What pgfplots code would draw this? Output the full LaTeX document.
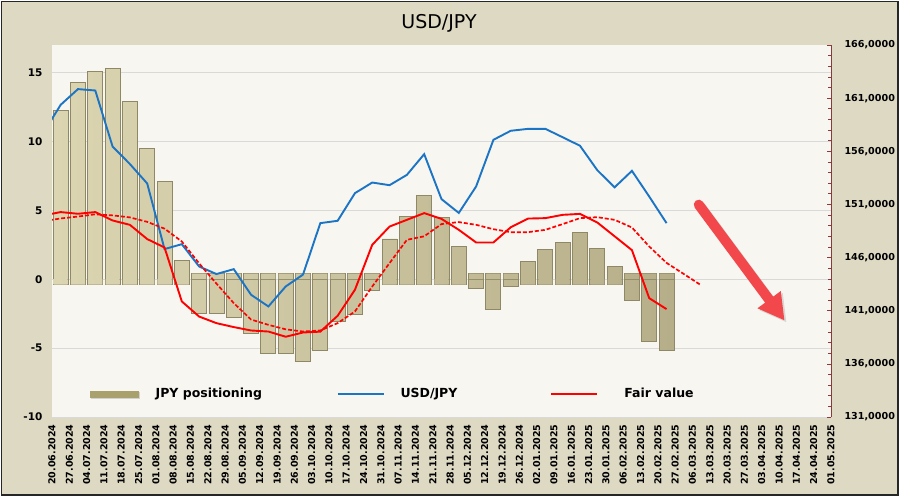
\documentclass[border=0pt]{standalone}
\usepackage{pgfplots}
\usepackage{pgfplotstable}
\pgfplotsset{compat=1.18}
\usepackage{fontspec}
\setmainfont{DejaVu Sans}
\usetikzlibrary{arrows.meta}
\definecolor{outerbg}{HTML}{DDD9C3}
\definecolor{plotbg}{HTML}{F7F6F1}
\definecolor{gridc}{HTML}{D9D9D9}
\definecolor{barL}{HTML}{DCD5B2}
\definecolor{barM}{HTML}{D2CBA5}
\definecolor{barR}{HTML}{B5AE88}
\definecolor{baredge}{HTML}{8E8866}
\definecolor{legbar}{HTML}{A8A06D}
\definecolor{usdblue}{HTML}{1C74C4}
\definecolor{axred}{HTML}{8B3A3A}
\definecolor{arrowred}{HTML}{F2474B}

\pgfplotsset{
  longline/.style={legend image code/.code={\draw (0pt,0pt) -- (46pt,0pt);}},
  barleg/.style={legend image code/.code={\fill[black,opacity=0.15] (1pt,-4.5pt) rectangle (49pt,1.5pt);\fill[legbar] (0pt,-3pt) rectangle (48pt,3pt);}},
  barface/.style={ybar, bar width=15pt, left color=barL, middle color=barM, right color=barR},
}

% JPY positioning (left axis), bars centred between weekly date ticks;
% base = the short stub that each bevelled bar shows on the other side of zero
\pgfplotstableread{
x v base
0.5 12.25 -0.4
1.5 14.28 -0.4
2.5 15.07 -0.4
3.5 15.29 -0.4
4.5 12.9 -0.4
5.5 9.47 -0.4
6.5 7.08 -0.4
7.5 1.38 -0.4
8.5 -2.49 0.4
9.5 -2.49 0.4
10.5 -2.75 0.4
11.5 -3.93 0.4
12.5 -5.41 0.4
13.5 -5.41 0.4
14.5 -6.0 0.4
15.5 -5.14 0.4
16.5 -3.09 0.4
17.5 -2.58 0.4
18.5 -0.8 0.4
19.5 2.92 -0.4
20.5 4.57 -0.4
21.5 6.07 -0.4
22.5 4.5 -0.4
23.5 2.39 -0.4
24.5 -0.7 0.4
25.5 -2.2 0.4
26.5 -0.55 0.4
27.5 1.26 -0.4
28.5 2.15 -0.4
29.5 2.64 -0.4
30.5 3.36 -0.4
31.5 2.2 -0.4
32.5 0.94 -0.4
33.5 -1.52 0.4
34.5 -4.51 0.4
35.5 -5.14 0.4
}\barsdata

% USD/JPY (right axis)
\pgfplotstableread{
x v
-0.5 157.73
0.5 160.37
1.5 161.85
2.5 161.72
3.5 156.45
4.5 154.8
5.5 152.97
6.5 146.8
7.5 147.26
8.5 145.16
9.5 144.45
10.5 144.91
11.5 142.5
12.5 141.4
13.5 143.28
14.5 144.4
15.5 149.24
16.5 149.46
17.5 152.06
18.5 153.06
19.5 152.81
20.5 153.78
21.5 155.73
22.5 151.5
23.5 150.2
24.5 152.69
25.5 157.08
26.5 157.93
27.5 158.11
28.5 158.11
29.5 157.32
30.5 156.52
31.5 154.22
32.5 152.61
33.5 154.16
34.5 151.74
35.5 149.24
}\usddata

% Fair value (right axis)
\pgfplotstableread{
x v
-0.5 149.96
0.5 150.28
1.5 150.12
2.5 150.28
3.5 149.49
4.5 149.08
5.5 147.74
6.5 146.95
7.5 141.87
8.5 140.45
9.5 139.83
10.5 139.46
11.5 139.14
12.5 139.04
13.5 138.55
14.5 138.95
15.5 139.03
16.5 140.52
17.5 142.97
18.5 147.2
19.5 148.92
20.5 149.55
21.5 150.18
22.5 149.64
23.5 148.61
24.5 147.42
25.5 147.42
26.5 148.85
27.5 149.67
28.5 149.71
29.5 150.02
30.5 150.11
31.5 149.3
32.5 148.0
33.5 146.7
34.5 142.18
35.5 141.15
}\fairdata

% smoothed fair value (dashed, right axis)
\pgfplotstableread{
x v
-0.5 149.42
0.5 149.68
1.5 149.86
2.5 150.07
3.5 149.97
4.5 149.78
5.5 149.36
6.5 148.72
7.5 147.51
8.5 145.45
9.5 143.55
10.5 141.71
11.5 140.17
12.5 139.67
13.5 139.25
14.5 139.04
15.5 139.14
16.5 139.83
17.5 140.93
18.5 143.28
19.5 145.48
20.5 147.67
21.5 148.0
22.5 149.15
23.5 149.34
24.5 149.08
25.5 148.67
26.5 148.39
27.5 148.39
28.5 148.61
29.5 149.15
30.5 149.71
31.5 149.8
32.5 149.55
33.5 148.83
34.5 147.04
35.5 145.5
36.5 144.45
37.5 143.39
}\smoothdata

\begin{document}
\begin{tikzpicture}[x=1pt,y=1pt]
\useasboundingbox (0,0) rectangle (900,498);
\fill[white] (0,0) rectangle (900,498);
\filldraw[fill=outerbg, draw=black!85, line width=1.2pt] (1.5,3) rectangle (898,496.5);
\node[font=\fontsize{19}{22}\selectfont] at (439,475) {USD/JPY};

\begin{axis}[
  at={(52pt,81pt)}, anchor=south west, width=779pt, height=372pt, scale only axis,
  xmin=0, xmax=45, ymin=-10, ymax=17,
  axis background/.style={fill=plotbg},
  axis line style={draw=none},
  xtick={0,...,45},
  xticklabels={20.06.2024,27.06.2024,04.07.2024,11.07.2024,18.07.2024,25.07.2024,01.08.2024,08.08.2024,15.08.2024,22.08.2024,29.08.2024,05.09.2024,12.09.2024,19.09.2024,26.09.2024,03.10.2024,10.10.2024,17.10.2024,24.10.2024,31.10.2024,07.11.2024,14.11.2024,21.11.2024,28.11.2024,05.12.2024,12.12.2024,19.12.2024,26.12.2024,02.01.2025,09.01.2025,16.01.2025,23.01.2025,30.01.2025,06.02.2025,13.02.2025,20.02.2025,27.02.2025,06.03.2025,13.03.2025,20.03.2025,27.03.2025,03.04.2025,10.04.2025,17.04.2025,24.04.2025,01.05.2025},
  ytick={-10,-5,...,15},
  ymajorgrids, grid style={gridc, line width=0.8pt},
  major tick length=0pt,
  /pgf/number format/assume math mode=true,
  yticklabel style={font=\bfseries\fontsize{10.5}{12}\selectfont, xshift=-6pt},
  xticklabel style={font=\bfseries\fontsize{9.5}{11}\selectfont, yshift=-4pt, rotate=90, anchor=east},
]
% outlined stubs and bars, then a fill-only pass that hides the seam at zero
\addplot[barface, draw=baredge, line width=0.9pt] table[x=x,y=base]{\barsdata};
\addplot[barface, draw=baredge, line width=0.9pt] table[x=x,y=v]{\barsdata};
\addplot[barface, draw=none, bar width=14.1pt] table[x=x,y=base]{\barsdata};
\draw[black, opacity=0.12, line width=10pt, line cap=round, -{Triangle[width=27pt,length=26pt]}]
  ([xshift=2pt,yshift=-2pt]axis cs:37.36,5.41) -- ([xshift=2pt,yshift=-2pt]axis cs:42.32,-3.0);
\draw[arrowred, line width=10pt, line cap=round, -{Triangle[width=27pt,length=26pt]}]
  (axis cs:37.36,5.41) -- (axis cs:42.32,-3.0);
\end{axis}

\begin{axis}[
  at={(52pt,81pt)}, anchor=south west, width=779pt, height=372pt, scale only axis,
  xmin=0, xmax=45, ymin=131, ymax=166,
  axis x line=none, axis y line*=right,
  axis line style={axred, line width=0.8pt},
  ytick={131,136,...,166}, minor y tick num=4,
  tick align=inside, major tick length=4pt, minor tick length=3pt,
  every tick/.style={axred, line width=0.6pt},
  yticklabel style={font=\bfseries\fontsize{9.6}{12}\selectfont, xshift=10pt,
    /pgf/number format/fixed, /pgf/number format/fixed zerofill,
    /pgf/number format/precision=4, /pgf/number format/use comma,
    /pgf/number format/1000 sep={}, /pgf/number format/assume math mode=true},
  legend columns=3,
  legend cell align=left,
  legend style={at={(0.0488,0.062)}, anchor=west, draw=none, fill=none, inner sep=0pt,
    font=\bfseries\fontsize{12.5}{15}\selectfont, nodes={inner sep=0pt},
    /tikz/every odd column/.append style={column sep=16pt}},
]
\addlegendimage{barleg}
\addlegendentry{\makebox[181pt][l]{JPY positioning}}
\addplot[usdblue, line width=1.9pt, longline] table[x=x,y=v]{\usddata};
\addlegendentry{\makebox[150pt][l]{USD/JPY}}
\addplot[red, line width=1.9pt, longline] table[x=x,y=v]{\fairdata};
\addlegendentry{\hspace*{10pt}Fair value}
\addplot[red, line width=1.7pt, dash pattern=on 4pt off 2pt, forget plot] table[x=x,y=v]{\smoothdata};
\end{axis}
\end{tikzpicture}
\end{document}
